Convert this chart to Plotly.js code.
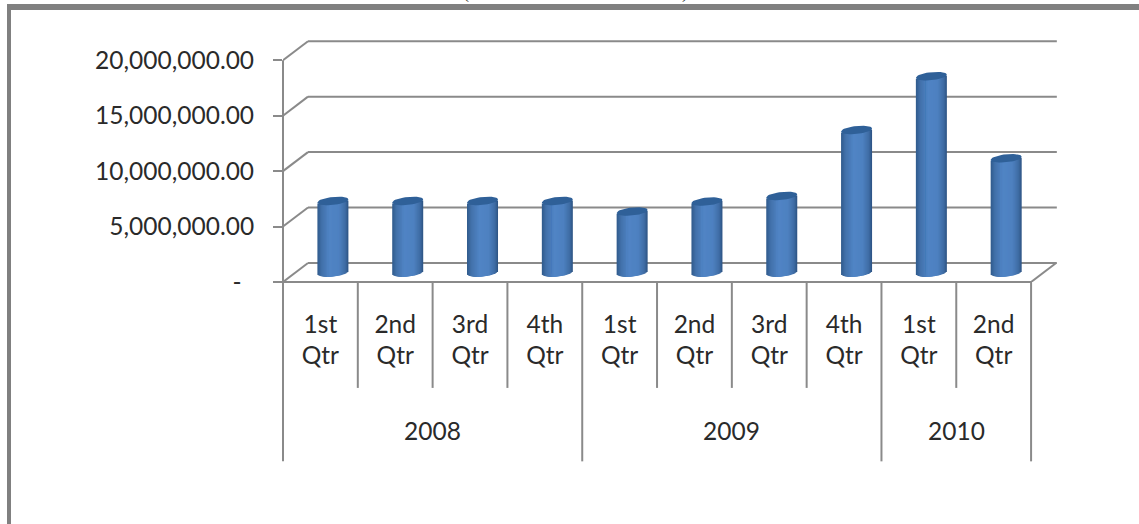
<!DOCTYPE html>
<html>
<head>
<meta charset="utf-8">
<script src="https://cdn.plot.ly/plotly-3.0.1.min.js"></script>
<style>
  html, body { margin: 0; padding: 0; background: #fff; overflow: hidden; }
  #frame { position: absolute; left: 7px; top: 4px; right: 0; bottom: 0;
           border-top: 6px solid #808080; border-left: 4px solid #808080; }
  #chart { position: absolute; left: 0; top: 0; width: 1139px; height: 524px; }
</style>
</head>
<body>
<div id="frame"></div>
<div id="chart"></div>
<script>
// Quarterly totals, 2008 to mid 2010
const quarters = ["1st<br>Qtr", "2nd<br>Qtr", "3rd<br>Qtr", "4th<br>Qtr", "1st<br>Qtr",
                  "2nd<br>Qtr", "3rd<br>Qtr", "4th<br>Qtr", "1st<br>Qtr", "2nd<br>Qtr"];
const values = [6450000, 6450000, 6450000, 6450000, 5500000,
                6400000, 6900000, 12850000, 17700000, 10300000];
const years = ["2008", "2009", "2010"];
const yearSpans = [[0, 4], [4, 8], [8, 10]];
const yTicks = [0, 5000000, 10000000, 15000000, 20000000];
const yLabels = ["-\u00a0\u00a0", "5,000,000.00", "10,000,000.00", "15,000,000.00", "20,000,000.00"];

// Plot geometry: the 3D look is a fixed oblique offset of the back wall
const FRONT_LEFT = 283, ZERO_Y = 282, CAT_PX = 74.8, UNIT_PX = 222 / 20000000;
const X_MAX = 10.4, Y_MAX = 22000000;
const DEPTH_X = 25 / CAT_PX, DEPTH_Y = 19 / UNIT_PX;
const PLOT_W = X_MAX * CAT_PX, PLOT_H = Y_MAX * UNIT_PX;
const LINE = { color: "#8a8a8a", width: 2 };
const FONT = { family: "Lato, sans-serif", size: 24.5, color: "#2a2a2a" };

// Cylinder proportions
const R_X = 15.5 / CAT_PX, R_Y = 4 / UNIT_PX, TILT = 1.5 / UNIT_PX;
const STRIPS = 31;
const SHADES = [[-1, [48, 90, 140]], [-0.72, [66, 113, 170]], [-0.2, [80, 132, 197]],
                [0.4, [78, 129, 192]], [0.8, [62, 108, 164]], [1, [44, 82, 130]]];

function shade(u) {
  for (let i = 1; i < SHADES.length; i++) {
    if (u <= SHADES[i][0]) {
      const [u0, c0] = SHADES[i - 1], [u1, c1] = SHADES[i];
      const t = (u - u0) / (u1 - u0);
      return "rgb(" + c0.map((c, k) => Math.round(c + (c1[k] - c) * t)).join(",") + ")";
    }
  }
  return "rgb(44,82,130)";
}

const centers = values.map((_, i) => i + 0.5 + DEPTH_X / 2);
const traces = [];

// Cylinder bodies: overlapping bars painted from both edges in to the lowest point
// of the front curve, so each one hides the inner part of the one before it
const lowest = -(TILT / R_Y) / Math.sqrt(1 + (TILT / R_Y) ** 2);
const strips = [];
for (let s = 0; s < STRIPS; s++) {
  const u0 = -1 + 2 * s / STRIPS, u1 = -1 + 2 * (s + 1) / STRIPS;
  strips.push({ u0, u1, mid: (u0 + u1) / 2 });
}
const leftSide = strips.filter(s => s.mid <= lowest);
const rightSide = strips.filter(s => s.mid > lowest).reverse();
[...leftSide.map(s => ({ s, a: s.u0, b: lowest })),
 ...rightSide.map(s => ({ s, a: lowest, b: s.u1 }))].forEach(({ s, a, b }) => {
  const u = s.mid;
  const lift = TILT * u - R_Y * Math.sqrt(1 - u * u);
  traces.push({
    type: "bar",
    x: centers.map(c => c + (a + b) / 2 * R_X),
    y: values,
    base: values.map(() => DEPTH_Y / 2 + lift),
    width: (b - a) * R_X,
    marker: { color: shade(u), line: { width: 0 } },
    hoverinfo: "skip",
    showlegend: false
  });
});

// Elliptical caps on top of the cylinders
const capX = [], capY = [];
values.forEach((v, i) => {
  for (let a = 0; a <= 40; a++) {
    const t = a / 40 * 2 * Math.PI;
    const u = Math.cos(t);
    capX.push(centers[i] + u * R_X);
    capY.push(v + DEPTH_Y / 2 + TILT * u + R_Y * Math.sin(t));
  }
  capX.push(null);
  capY.push(null);
});
traces.push({
  type: "scatter", mode: "lines", x: capX, y: capY, fill: "toself",
  fillcolor: "#2f6098", line: { width: 0, color: "#2f6098" },
  hoverinfo: "skip", showlegend: false
});

// Wall gridlines, floor edges and the category dividers
const shapes = [];
const seg = (xref, yref, x0, y0, x1, y1) =>
  ({ type: "line", layer: "below", xref, yref, x0, y0, x1, y1, line: LINE });
const paperBelow = px => -(px - ZERO_Y) / PLOT_H;

yTicks.forEach(t => {
  shapes.push(seg("x", "y", 0, t, DEPTH_X, t + DEPTH_Y));
  shapes.push(seg("x", "y", DEPTH_X, t + DEPTH_Y, 10 + DEPTH_X + 0.01, t + DEPTH_Y));
});
shapes.push(seg("paper", "y", 0, 0, 0, 20000000));
shapes.push(seg("x", "y", 10, 0, 10 + DEPTH_X, DEPTH_Y));
shapes.push(seg("paper", "paper", 0, 0, 10 / X_MAX, 0));

const yearEdges = new Set(yearSpans.flat());
for (let i = 0; i <= quarters.length; i++) {
  const end = yearEdges.has(i) ? 461.5 : 388;
  shapes.push(seg("paper", "paper", i / X_MAX, 0, i / X_MAX, paperBelow(end)));
}

// Year labels under the quarter row
const annotations = years.map((y, i) => ({
  text: y, xref: "x", yref: "paper",
  x: (yearSpans[i][0] + yearSpans[i][1]) / 2, y: paperBelow(431),
  xanchor: "center", yanchor: "middle", showarrow: false, font: FONT
}));

// Title brackets, cut off at the top of the page
[["(", 466], [")", 685]].forEach(([ch, px]) => annotations.push({
  text: ch, xref: "paper", yref: "paper",
  x: (px - FRONT_LEFT) / PLOT_W, y: (ZERO_Y + 8) / PLOT_H,
  xanchor: "center", yanchor: "middle", showarrow: false,
  font: { family: "Liberation Serif, serif", size: 18, color: "#222" }
}));

const layout = {
  width: 1139, height: 524,
  margin: { l: FRONT_LEFT, t: ZERO_Y - PLOT_H, r: 1139 - FRONT_LEFT - PLOT_W, b: 524 - ZERO_Y, pad: 0 },
  paper_bgcolor: "rgba(0,0,0,0)", plot_bgcolor: "rgba(0,0,0,0)",
  barmode: "overlay", showlegend: false, font: FONT,
  xaxis: {
    type: "linear", range: [0, X_MAX], fixedrange: true, automargin: false,
    tickmode: "array", tickvals: quarters.map((_, i) => i + 0.5), ticktext: quarters,
    showgrid: false, zeroline: false, showline: false, ticks: "",
    tickangle: 0, tickfont: FONT, ticklabelstandoff: 25
  },
  yaxis: {
    type: "linear", range: [0, Y_MAX], fixedrange: true, automargin: false,
    tickmode: "array", tickvals: yTicks, ticktext: yLabels,
    showgrid: false, zeroline: false, showline: false,
    ticks: "outside", ticklen: 9, tickwidth: 2, tickcolor: "#8a8a8a",
    tickfont: FONT, ticklabelstandoff: 14
  },
  shapes, annotations
};

Plotly.newPlot("chart", traces, layout, { displayModeBar: false, staticPlot: true });
</script>
</body>
</html>
